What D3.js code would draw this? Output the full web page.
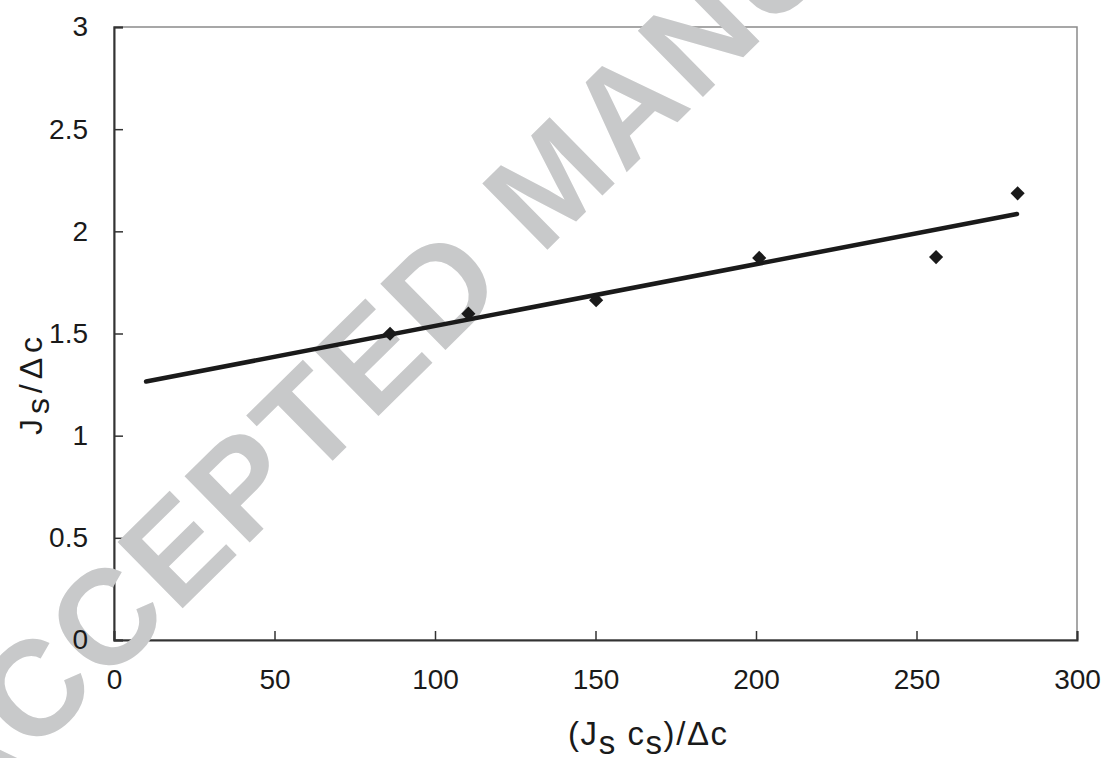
<!DOCTYPE html>
<html>
<head>
<meta charset="utf-8">
<script src="https://cdn.jsdelivr.net/npm/d3@7/dist/d3.min.js"></script>
<style>
  html, body { margin: 0; padding: 0; background: #fff; }
  svg { display: block; }
  text { font-family: "Liberation Sans", Arial, sans-serif; fill: #1a1a1a; }
</style>
</head>
<body>
<svg id="chart" width="1104" height="758"></svg>
<script>
// Data
const xValues = [86.0, 110.4, 150.2, 201.0, 256.1, 281.5];
const yValues = [1.499, 1.597, 1.663, 1.870, 1.874, 2.186];
const trendX = [10, 281.3];
const trendY = [1.265, 2.085];
const xTicks = [0, 50, 100, 150, 200, 250, 300];
const yTicks = [0, 0.5, 1, 1.5, 2, 2.5, 3];
const yTickLabels = ["0", "0.5", "1", "1.5", "2", "2.5", "3"];
const watermarkText = "ACCEPTED MANUSCRIPT";

const W = 1104, H = 758;
const margin = { left: 114, top: 27, right: 27, bottom: 118 };
const pw = W - margin.left - margin.right;
const ph = H - margin.top - margin.bottom;

const svg = d3.select("#chart");

const x = d3.scaleLinear().domain([0, 300]).range([0, pw]);
const y = d3.scaleLinear().domain([0, 3]).range([ph, 0]);

// layers
const gBase = svg.append("g").attr("transform", `translate(${margin.left},${margin.top})`);
const wmLayer = svg.append("g");
const gTop = svg.append("g").attr("transform", `translate(${margin.left},${margin.top})`);
const titles = svg.append("g");

// plot frame (gray)
gBase.append("rect")
  .attr("x", 0).attr("y", 0).attr("width", pw).attr("height", ph)
  .attr("fill", "none").attr("stroke", "#8a8a8a").attr("stroke-width", 1.5);

// axis lines and ticks (below watermark)
const gx = gBase.append("g").attr("transform", `translate(0,${ph})`)
  .call(d3.axisBottom(x).tickValues(xTicks).tickSize(-9).tickFormat(""));
gx.select(".domain").attr("stroke", "#333").attr("stroke-width", 2);
gx.selectAll(".tick line").attr("stroke", "#333").attr("stroke-width", 1.5);

const gy = gBase.append("g")
  .call(d3.axisLeft(y).tickValues(yTicks).tickSize(-9).tickFormat(""));
gy.select(".domain").attr("stroke", "#333").attr("stroke-width", 2);
gy.selectAll(".tick line").attr("stroke", "#333").attr("stroke-width", 1.5);

// watermark
wmLayer.append("text")
  .attr("transform", "translate(-41,828) rotate(-44.5)")
  .style("font-family", "'Liberation Sans', Arial, sans-serif")
  .style("font-weight", "bold")
  .style("font-size", "135px")
  .style("letter-spacing", "4px")
  .style("fill", "#c8c9ca")
  .text(watermarkText);

// tick labels (above watermark)
const gxl = gTop.append("g").attr("transform", `translate(0,${ph})`)
  .call(d3.axisBottom(x).tickValues(xTicks).tickSize(0).tickPadding(0).tickFormat(d3.format("d")));
gxl.select(".domain").remove();
gxl.selectAll(".tick text").style("font-size", "28px").attr("fill", "#1a1a1a").attr("dy", "0.71em").attr("y", 29);

const gyl = gTop.append("g")
  .call(d3.axisLeft(y).tickValues(yTicks).tickSize(0).tickPadding(26).tickFormat((d, i) => yTickLabels[i]));
gyl.select(".domain").remove();
gyl.selectAll(".tick text").style("font-size", "28px").attr("fill", "#1a1a1a");

// trend line
const line = d3.line().x(d => x(d[0])).y(d => y(d[1]));
gTop.append("path")
  .datum(d3.zip(trendX, trendY))
  .attr("d", line)
  .attr("fill", "none").attr("stroke", "#1a1a1a").attr("stroke-width", 4.5).attr("stroke-linecap", "round");

// markers (diamonds)
const sym = d3.symbol().type(d3.symbolSquare).size(100);
gTop.selectAll(".pt").data(d3.zip(xValues, yValues)).enter().append("path")
  .attr("class", "pt")
  .attr("d", sym)
  .attr("transform", d => `translate(${x(d[0])},${y(d[1])}) rotate(45)`)
  .attr("fill", "#1a1a1a");

// x title
const xt = titles.append("text")
  .attr("x", 568).attr("y", 745)
  .attr("text-anchor", "start")
  .attr("textLength", 159)
  .attr("lengthAdjust", "spacing")
  .style("font-size", "33px");
xt.append("tspan").text("(J");
xt.append("tspan").attr("dy", 9).text("s");
xt.append("tspan").attr("dy", -9).text(" c");
xt.append("tspan").attr("dy", 9).text("s");
xt.append("tspan").attr("dy", -9).text(")/\u0394c");

// y title
const yt = titles.append("text")
  .attr("transform", "translate(42,435) rotate(-90)")
  .attr("text-anchor", "start")
  .attr("textLength", 98)
  .attr("lengthAdjust", "spacing")
  .style("font-size", "32px");
yt.append("tspan").text("J");
yt.append("tspan").attr("dy", 7).text("s");
yt.append("tspan").attr("dy", -7).text("/\u0394c");
</script>
</body>
</html>
